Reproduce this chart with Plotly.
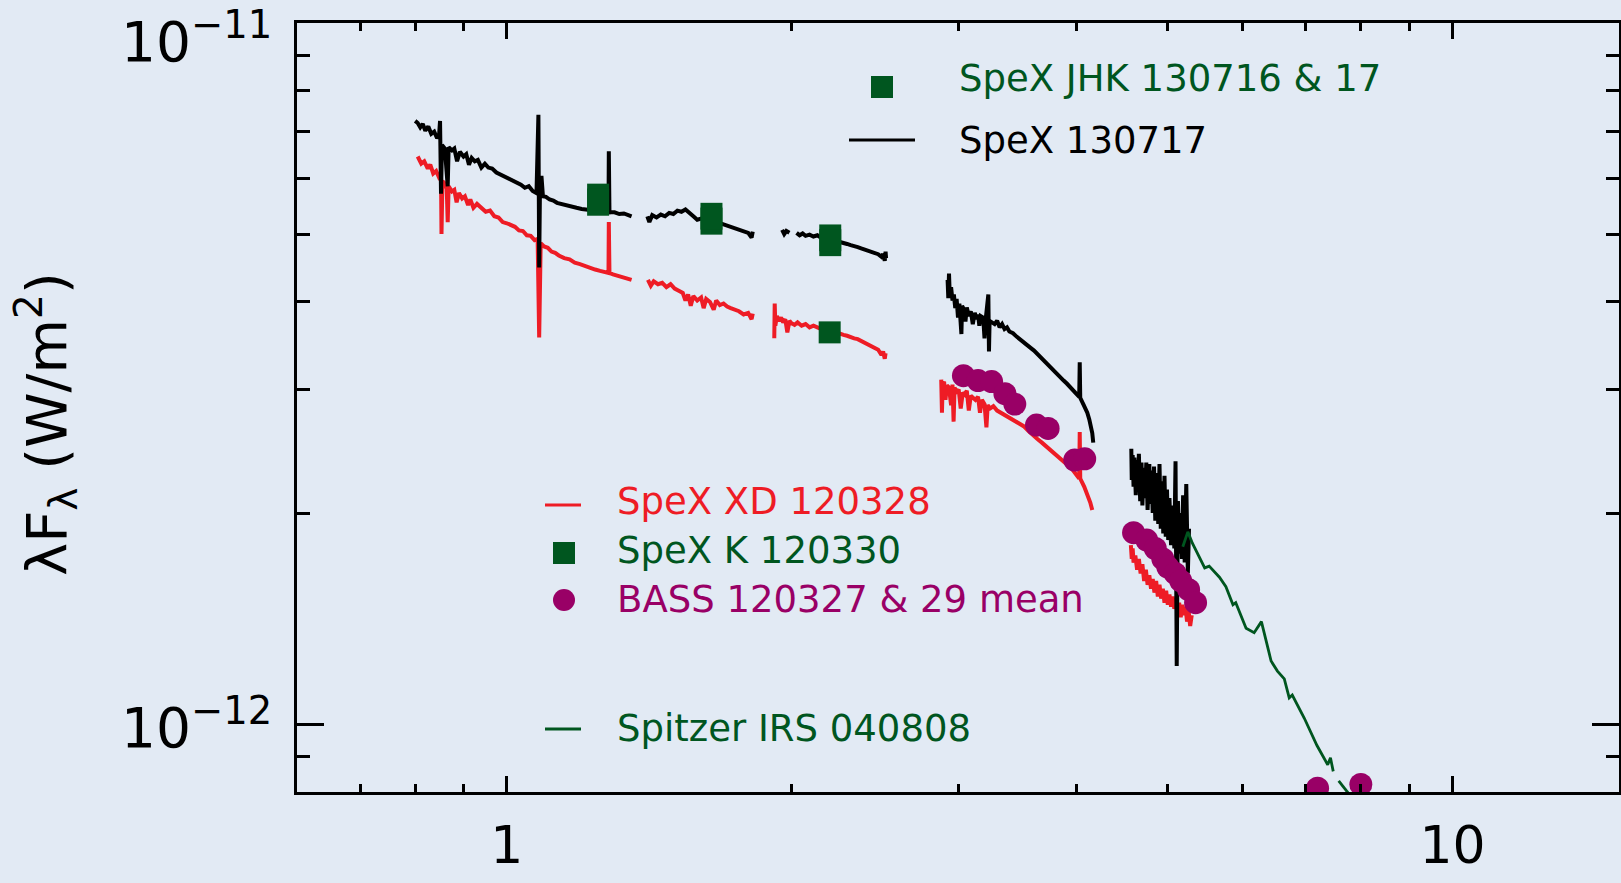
import math
import plotly.graph_objects as go

# ---------------- data (x in micron, y in 1e-12 W/m^2) ----------------
SCALE = 1e-12

# SpeX XD 120328 (red)
xd_seg1 = [(0.805, 6.45), (0.812, 6.30), (0.818, 6.35), (0.825, 6.20), (0.830, 6.28), (0.836, 6.10),
           (0.842, 6.15), (0.848, 6.02), (0.852, 6.05), (0.853, 5.00), (0.855, 5.95), (0.860, 5.90),
           (0.864, 5.80), (0.866, 5.20), (0.868, 5.85), (0.875, 5.75), (0.880, 5.78), (0.885, 5.55),
           (0.890, 5.72), (0.897, 5.62), (0.903, 5.66), (0.910, 5.50), (0.915, 5.60), (0.922, 5.45),
           (0.930, 5.52), (0.940, 5.44), (0.950, 5.38), (0.960, 5.40), (0.970, 5.30), (0.980, 5.28),
           (0.990, 5.20), (1.000, 5.18), (1.010, 5.15), (1.020, 5.12), (1.030, 5.06), (1.040, 5.05),
           (1.050, 4.98), (1.060, 4.97), (1.070, 4.90), (1.078, 4.92), (1.082, 3.56), (1.086, 4.85),
           (1.095, 4.80), (1.105, 4.78), (1.115, 4.72), (1.125, 4.70), (1.135, 4.66), (1.150, 4.62),
           (1.165, 4.60), (1.180, 4.55), (1.195, 4.53), (1.210, 4.50), (1.225, 4.48), (1.240, 4.45),
           (1.255, 4.43), (1.270, 4.41), (1.281, 4.40), (1.282, 5.20), (1.284, 4.40), (1.295, 4.38),
           (1.310, 4.36), (1.325, 4.34), (1.340, 4.33), (1.355, 4.30)]
xd_seg2 = [(1.410, 4.30), (1.420, 4.22), (1.430, 4.28), (1.445, 4.24), (1.460, 4.26), (1.475, 4.20),
           (1.490, 4.24), (1.505, 4.18), (1.520, 4.15), (1.535, 4.12), (1.545, 4.02), (1.555, 4.10),
           (1.565, 3.95), (1.575, 4.08), (1.590, 4.02), (1.605, 4.06), (1.615, 3.92), (1.625, 4.04),
           (1.640, 4.00), (1.655, 3.90), (1.665, 4.02), (1.680, 3.96), (1.695, 3.98), (1.710, 3.94),
           (1.725, 3.92), (1.740, 3.90), (1.760, 3.88), (1.780, 3.84), (1.800, 3.86), (1.815, 3.78),
           (1.820, 3.85)]
xd_seg3 = [(1.918, 3.55), (1.920, 3.98), (1.923, 3.70), (1.930, 3.82), (1.940, 3.76), (1.950, 3.80),
           (1.960, 3.74), (1.970, 3.78), (1.980, 3.62), (1.990, 3.76), (2.000, 3.73), (2.015, 3.71),
           (2.030, 3.74), (2.050, 3.70), (2.070, 3.72), (2.090, 3.68), (2.110, 3.70), (2.130, 3.68),
           (2.150, 3.66), (2.170, 3.66), (2.190, 3.64), (2.210, 3.62), (2.230, 3.62), (2.250, 3.60),
           (2.270, 3.59), (2.290, 3.58), (2.310, 3.56), (2.330, 3.55), (2.350, 3.54), (2.370, 3.52),
           (2.390, 3.50), (2.410, 3.48), (2.430, 3.47), (2.450, 3.44), (2.470, 3.42), (2.490, 3.36),
           (2.500, 3.40), (2.510, 3.32), (2.515, 3.38)]
xd_seg4 = [(2.880, 3.10), (2.885, 2.78), (2.890, 3.05), (2.900, 3.08), (2.910, 2.90), (2.920, 3.04),
           (2.935, 3.02), (2.950, 2.85), (2.960, 3.05), (2.968, 2.70), (2.975, 3.02), (2.990, 2.98),
           (3.005, 3.00), (3.020, 2.82), (3.035, 2.97), (3.050, 2.95), (3.065, 2.99), (3.080, 2.80),
           (3.095, 2.94), (3.110, 2.92), (3.130, 2.90), (3.150, 2.93), (3.165, 2.78), (3.180, 2.90),
           (3.200, 2.86), (3.215, 2.65), (3.225, 2.85), (3.245, 2.82), (3.270, 2.84), (3.300, 2.80),
           (3.330, 2.78), (3.360, 2.76), (3.400, 2.74), (3.440, 2.71), (3.480, 2.68), (3.520, 2.66),
           (3.560, 2.62), (3.600, 2.58), (3.640, 2.55), (3.680, 2.52), (3.720, 2.49), (3.760, 2.46),
           (3.800, 2.43), (3.840, 2.40), (3.880, 2.37), (3.920, 2.34), (3.960, 2.31), (4.000, 2.27),
           (4.030, 2.24), (4.035, 2.61), (4.040, 2.24), (4.080, 2.18), (4.110, 2.13), (4.140, 2.07),
           (4.160, 2.02)]
xd_seg5 = [(4.570, 1.80), (4.580, 1.72), (4.590, 1.78), (4.600, 1.70), (4.620, 1.74), (4.640, 1.66),
           (4.660, 1.72), (4.680, 1.64), (4.700, 1.69), (4.720, 1.60), (4.740, 1.66), (4.760, 1.58),
           (4.780, 1.63), (4.800, 1.56), (4.820, 1.61), (4.840, 1.54), (4.860, 1.60), (4.880, 1.52),
           (4.900, 1.58), (4.920, 1.51), (4.940, 1.56), (4.960, 1.49), (4.980, 1.55), (5.000, 1.48),
           (5.020, 1.53), (5.040, 1.47), (5.060, 1.52), (5.080, 1.46), (5.100, 1.50), (5.120, 1.44),
           (5.140, 1.49), (5.160, 1.42), (5.180, 1.48), (5.200, 1.43), (5.220, 1.47), (5.240, 1.40),
           (5.260, 1.45), (5.280, 1.38), (5.300, 1.43)]

# SpeX 130717 (black)
sx_seg1 = [(0.800, 7.25), (0.805, 7.20), (0.810, 7.10), (0.815, 7.18), (0.820, 7.02), (0.826, 7.12),
           (0.832, 6.95), (0.838, 7.00), (0.844, 6.85), (0.848, 6.92), (0.850, 7.25), (0.852, 5.71),
           (0.854, 6.70), (0.860, 6.62), (0.866, 5.85), (0.868, 6.65), (0.875, 6.58), (0.880, 6.62),
           (0.886, 6.35), (0.892, 6.55), (0.900, 6.45), (0.906, 6.50), (0.912, 6.28), (0.918, 6.42),
           (0.925, 6.35), (0.932, 6.38), (0.940, 6.22), (0.948, 6.30), (0.956, 6.22), (0.965, 6.20),
           (0.975, 6.12), (0.985, 6.08), (0.995, 6.02), (1.005, 6.00), (1.015, 5.95), (1.025, 5.92),
           (1.035, 5.88), (1.045, 5.82), (1.055, 5.85), (1.065, 5.76), (1.075, 5.72), (1.080, 7.40),
           (1.082, 4.48), (1.084, 5.72), (1.088, 6.05), (1.092, 5.66), (1.100, 5.65), (1.110, 5.60),
           (1.120, 5.58), (1.130, 5.54), (1.140, 5.52), (1.155, 5.49), (1.170, 5.47), (1.185, 5.45),
           (1.200, 5.43), (1.215, 5.42), (1.230, 5.41), (1.245, 5.40), (1.260, 5.39), (1.275, 5.38),
           (1.281, 5.37), (1.282, 6.56), (1.284, 5.37), (1.300, 5.37), (1.315, 5.34), (1.330, 5.35),
           (1.345, 5.31), (1.355, 5.30)]
sx_seg2 = [(1.408, 5.30), (1.415, 5.20), (1.425, 5.32), (1.440, 5.28), (1.455, 5.33), (1.470, 5.30),
           (1.485, 5.36), (1.500, 5.34), (1.515, 5.40), (1.530, 5.38), (1.545, 5.42), (1.560, 5.35),
           (1.575, 5.30), (1.590, 5.24), (1.605, 5.26), (1.620, 5.22), (1.635, 5.26), (1.650, 5.24),
           (1.665, 5.20), (1.680, 5.18), (1.695, 5.16), (1.710, 5.14), (1.725, 5.12), (1.740, 5.10),
           (1.760, 5.08), (1.780, 5.04), (1.800, 5.02), (1.815, 4.94), (1.820, 5.04)]
sx_seg3 = [(1.955, 5.07), (1.965, 5.00), (1.975, 5.05), (1.990, 5.02)]
sx_seg4 = [(2.025, 5.02), (2.040, 4.98), (2.055, 5.01), (2.070, 4.97), (2.090, 4.99), (2.110, 4.96),
           (2.130, 4.98), (2.150, 4.94), (2.170, 4.93), (2.190, 4.92), (2.210, 4.90), (2.230, 4.89),
           (2.250, 4.87), (2.270, 4.86), (2.290, 4.84), (2.310, 4.82), (2.330, 4.81), (2.350, 4.79),
           (2.370, 4.77), (2.390, 4.75), (2.410, 4.74), (2.430, 4.72), (2.450, 4.70), (2.470, 4.68),
           (2.490, 4.64), (2.500, 4.68), (2.510, 4.58), (2.515, 4.72), (2.518, 4.62)]
sx_seg5 = [(2.925, 4.30), (2.930, 4.05), (2.935, 4.39), (2.940, 4.12), (2.950, 4.20), (2.960, 4.02),
           (2.970, 4.10), (2.980, 3.92), (2.990, 4.04), (3.000, 3.80), (3.010, 3.98), (3.025, 3.60),
           (3.030, 3.95), (3.045, 3.90), (3.055, 3.75), (3.065, 3.93), (3.080, 3.82), (3.095, 3.88),
           (3.110, 3.72), (3.125, 3.86), (3.140, 3.78), (3.150, 3.84), (3.160, 3.70), (3.170, 3.82),
           (3.190, 3.80), (3.200, 3.55), (3.210, 3.79), (3.230, 4.10), (3.235, 3.40), (3.240, 3.76),
           (3.280, 3.72), (3.300, 3.76), (3.320, 3.68), (3.340, 3.72), (3.360, 3.66), (3.380, 3.68),
           (3.400, 3.63), (3.430, 3.61), (3.460, 3.57), (3.490, 3.54), (3.520, 3.51), (3.550, 3.47),
           (3.580, 3.44), (3.610, 3.41), (3.640, 3.37), (3.670, 3.33), (3.700, 3.30), (3.730, 3.26),
           (3.760, 3.23), (3.790, 3.19), (3.820, 3.16), (3.850, 3.12), (3.880, 3.09), (3.910, 3.06),
           (3.940, 3.03), (3.970, 3.00), (4.000, 2.97), (4.030, 2.93), (4.035, 3.28), (4.040, 2.92),
           (4.070, 2.86), (4.090, 2.82), (4.110, 2.78), (4.130, 2.72), (4.150, 2.66), (4.160, 2.60),
           (4.170, 2.52)]
sx_seg6 = [(4.575, 2.47), (4.580, 2.23), (4.590, 2.42), (4.600, 2.18), (4.610, 2.40), (4.625, 2.12),
           (4.640, 2.38), (4.650, 2.15), (4.660, 2.43), (4.675, 2.08), (4.690, 2.36), (4.700, 2.05),
           (4.715, 2.32), (4.730, 2.10), (4.745, 2.36), (4.760, 2.02), (4.780, 2.35), (4.790, 2.06),
           (4.805, 2.30), (4.820, 2.00), (4.835, 2.33), (4.850, 1.95), (4.870, 2.28), (4.885, 1.93),
           (4.900, 2.35), (4.915, 1.90), (4.930, 2.22), (4.945, 1.87), (4.960, 2.26), (4.975, 1.85),
           (4.990, 2.16), (5.005, 1.83), (5.020, 2.10), (5.040, 1.80), (5.060, 2.05), (5.080, 1.78),
           (5.095, 2.37), (5.110, 1.21), (5.125, 2.08), (5.140, 1.75), (5.160, 2.00), (5.175, 1.72),
           (5.190, 2.12), (5.210, 1.70), (5.230, 2.20), (5.250, 1.64), (5.265, 1.90)]

# Spitzer IRS 040808 (green line)
irs_seg1 = [(5.186, 1.79), (5.25, 1.88), (5.31, 1.81), (5.47, 1.67), (5.53, 1.68), (5.67, 1.62),
            (5.76, 1.57), (5.86, 1.48), (5.90, 1.49), (6.05, 1.37), (6.17, 1.35), (6.28, 1.40),
            (6.43, 1.23), (6.53, 1.19), (6.64, 1.16), (6.72, 1.09), (6.77, 1.10), (6.89, 1.05),
            (6.97, 1.02), (7.19, 0.932), (7.38, 0.875), (7.43, 0.895), (7.48, 0.856)]
irs_seg2 = [(7.58, 0.83), (7.80, 0.79)]

# BASS 120327 & 29 mean (magenta circles)
bass_x = [3.04, 3.15, 3.256, 3.363, 3.445, 3.632, 3.736, 3.986, 4.084,
          4.60, 4.75, 4.85, 4.94, 5.00, 5.09, 5.16, 5.26, 5.35, 7.20, 8.00]
bass_y = [3.14, 3.09, 3.08, 2.96, 2.86, 2.67, 2.64, 2.38, 2.39,
          1.875, 1.83, 1.78, 1.72, 1.675, 1.64, 1.60, 1.555, 1.49, 0.81, 0.82]

# SpeX JHK 130716 & 17 (green boxes) with vertical extent
jhk_x = [1.249, 1.646, 2.198]
jhk_y = [5.60, 5.26, 4.90]
jhk_up = [0.30, 0.28, 0.26]
jhk_dn = [0.29, 0.27, 0.25]

# SpeX K 120330 (green square)
k_x = [2.195]
k_y = [3.62]

x_major = [1, 10]
x_major_text = ["1", "10"]
x_minor = [0.7, 0.8, 0.9, 2, 3, 4, 5, 6, 7, 8, 9]
y_major = [1e-12, 1e-11]
y_minor = [8e-13, 9e-13, 2e-12, 3e-12, 4e-12, 5e-12, 6e-12, 7e-12, 8e-12, 9e-12]
y_major_text = ["10<sup>−12</sup>", "10<sup>−11</sup>"]

# ---------------- styling ----------------
BG = "#e2eaf4"
RED = "#ee1c25"
BLACK = "#000000"
GREEN = "#00561f"
MAGENTA = "#990066"
FONT = "DejaVu Sans"


def join(*segs):
    xs, ys = [], []
    for i, seg in enumerate(segs):
        if i:
            xs.append(None)
            ys.append(None)
        xs += [p[0] for p in seg]
        ys += [p[1] * SCALE for p in seg]
    return xs, ys


fig = go.Figure()

rx, ry = join(xd_seg1, xd_seg2, xd_seg3, xd_seg4, xd_seg5)
fig.add_trace(go.Scatter(x=rx, y=ry, mode="lines", line=dict(color=RED, width=4),
                         connectgaps=False, hoverinfo="skip"))
bx, by = join(sx_seg1, sx_seg2, sx_seg3, sx_seg4, sx_seg5, sx_seg6)
fig.add_trace(go.Scatter(x=bx, y=by, mode="lines", line=dict(color=BLACK, width=4),
                         connectgaps=False, hoverinfo="skip"))
gx, gy = join(irs_seg1, irs_seg2)
fig.add_trace(go.Scatter(x=gx, y=gy, mode="lines", line=dict(color=GREEN, width=2.8),
                         connectgaps=False, hoverinfo="skip"))
fig.add_trace(go.Scatter(x=bass_x, y=[v * SCALE for v in bass_y], mode="markers",
                         marker=dict(symbol="circle", size=23, color=MAGENTA, line_width=0),
                         hoverinfo="skip"))
fig.add_trace(go.Scatter(x=jhk_x, y=[v * SCALE for v in jhk_y], mode="markers",
                         marker=dict(symbol="square", size=22, color=GREEN, line_width=0),
                         error_y=dict(type="data", symmetric=False,
                                      array=[v * SCALE for v in jhk_up],
                                      arrayminus=[v * SCALE for v in jhk_dn],
                                      thickness=22, width=0, color=GREEN),
                         hoverinfo="skip"))
fig.add_trace(go.Scatter(x=k_x, y=[v * SCALE for v in k_y], mode="markers",
                         marker=dict(symbol="square", size=22, color=GREEN, line_width=0),
                         hoverinfo="skip"))

# plot-area geometry (pixels) used to place legend items in paper coords
W, H = 1621, 883
L, R, T, B = 297, 2, 23, 91
PW, PH = W - L - R, H - T - B


def px(x):
    return (x - L) / PW


def py(y):
    return (H - B - y) / PH


annotations = []
shapes = []

legend_items = [
    ("SpeX JHK 130716 & 17", GREEN, 957, 79, "square", 882, 87, 0),
    ("SpeX 130717", BLACK, 957, 141, "line", 849, 140, 66),
    ("SpeX XD 120328", RED, 615, 501, "line", 545, 505, 36),
    ("SpeX K 120330", GREEN, 615, 550, "square", 564, 553, 0),
    ("BASS 120327 & 29 mean", MAGENTA, 615, 599, "circle", 564, 600, 0),
    ("Spitzer IRS 040808", GREEN, 615, 728, "line", 545, 729, 36),
]
for text, col, tx, ty, sym, sx, sy, slen in legend_items:
    annotations.append(dict(text=text, x=px(tx), y=py(ty), xref="paper", yref="paper",
                            xanchor="left", yanchor="middle", showarrow=False,
                            font=dict(family=FONT, size=37, color=col)))
    if sym == "line":
        shapes.append(dict(type="line", xref="paper", yref="paper",
                           x0=px(sx), x1=px(sx + slen), y0=py(sy), y1=py(sy),
                           line=dict(color=col, width=3)))
    elif sym == "square":
        shapes.append(dict(type="rect", xref="paper", yref="paper",
                           x0=px(sx - 11), x1=px(sx + 11), y0=py(sy + 11), y1=py(sy - 11),
                           fillcolor=col, line=dict(width=0)))
    else:
        shapes.append(dict(type="circle", xref="paper", yref="paper",
                           x0=px(sx - 11), x1=px(sx + 11), y0=py(sy + 11), y1=py(sy - 11),
                           fillcolor=col, line=dict(width=0)))

# y tick labels
for val, txt, shift in zip(y_major, y_major_text, [0, -15]):
    annotations.append(dict(text=txt, x=px(274), y=math.log10(val), xref="paper", yref="y",
                            xanchor="right", yanchor="middle", yshift=shift, showarrow=False,
                            font=dict(family=FONT, size=55, color=BLACK)))

# y axis title
annotations.append(dict(text="λF<sub>λ</sub> (W/m<sup>2</sup>)", x=px(46), y=py(424),
                        xref="paper", yref="paper", textangle=-90, showarrow=False,
                        xanchor="center", yanchor="middle",
                        font=dict(family=FONT, size=56, color=BLACK)))

axis_common = dict(type="log", showline=True, linewidth=3, linecolor=BLACK, mirror="allticks",
                   ticks="inside", tickwidth=3, tickcolor=BLACK, showgrid=False, zeroline=False,
                   automargin=False)

fig.update_layout(
    width=W, height=H,
    margin=dict(l=L, r=R, t=T, b=B, autoexpand=False),
    paper_bgcolor=BG, plot_bgcolor=BG,
    showlegend=False,
    xaxis=dict(**axis_common, range=[math.log10(0.6), math.log10(15)],
               tickmode="array", tickvals=x_major, ticktext=x_major_text, ticklen=16,
               tickfont=dict(family=FONT, size=52, color=BLACK), ticklabelstandoff=6,
               minor=dict(tickmode="array", tickvals=x_minor, ticks="inside", ticklen=8,
                          tickwidth=3, tickcolor=BLACK, showgrid=False)),
    yaxis=dict(**axis_common, range=[math.log10(8e-13), -11],
               tickmode="array", tickvals=y_major, ticklen=27, showticklabels=False,
               minor=dict(tickmode="array", tickvals=y_minor, ticks="inside", ticklen=13,
                          tickwidth=3, tickcolor=BLACK, showgrid=False)),
    annotations=annotations,
    shapes=shapes,
)

fig.write_html("out.html",
               config={"displayModeBar": False},
               post_script="document.body.style.margin='0';"
                           "document.body.style.overflow='hidden';"
                           "document.body.style.background='" + BG + "';")
